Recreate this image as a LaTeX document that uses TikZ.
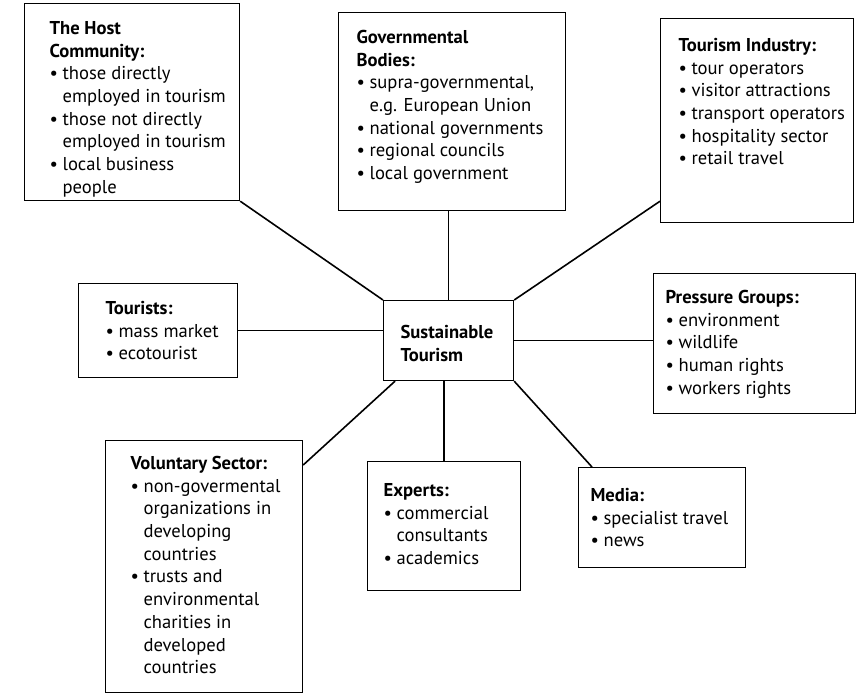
\documentclass[tikz,border=0pt]{standalone}
\usepackage{fontspec}
\setmainfont{PT Sans}
\usetikzlibrary{calc}
\newcommand\boxfont{\fontsize{18.6}{22.7}\selectfont}
\newcommand\bi[1]{\par\hangindent=13pt\hangafter=1\noindent\makebox[13pt][l]{•}\strut#1}
\newcommand\ttl[1]{\noindent\textbf{\strut#1}}
\newcommand\mybox[8]{\node[boxstyle, anchor=north west] (#1) at (#2,#3)
  {\parbox[t][#5pt][t]{#4pt}{\vspace*{#7pt}\leftskip=#6pt\rightskip=0pt plus 1fil\parindent=0pt\boxfont #8}};}
\tikzset{
  boxstyle/.style={draw=black, line width=1.2pt, inner sep=0pt},
  link/.style={draw=black, line width=1.6pt}
}
\begin{document}
\begin{tikzpicture}[x=1pt, y=-1pt]
\fill[white] (0,0) rectangle (856,695);
\useasboundingbox (0,0) rectangle (856,695);
\mybox{host}{24}{3}{215}{197}{25}{15}{\ttl{The Host\newline Community:}
  \bi{those directly\newline employed in tourism}
  \bi{those not directly\newline employed in tourism}
  \bi{local business\newline people}}
\mybox{gov}{338}{12}{227}{198}{18}{15}{\ttl{Governmental\newline Bodies:}
  \bi{supra-governmental,\newline e.g. European Union}
  \bi{national governments}
  \bi{regional councils}
  \bi{local government}}
\mybox{ti}{660}{18}{193}{204}{18}{17}{\ttl{Tourism Industry:}
  \bi{tour operators}
  \bi{visitor attractions}
  \bi{transport operators}
  \bi{hospitality sector}
  \bi{retail travel}}
\mybox{tour}{78}{283}{159}{94}{27}{15}{\ttl{Tourists:}
  \bi{mass market}
  \bi{ecotourist}}
\mybox{st}{383}{300}{130}{80}{17}{22}{\ttl{Sustainable\newline Tourism}}
\mybox{pg}{653}{273}{202}{140}{12}{14}{\ttl{Pressure Groups:}
  \bi{environment}
  \bi{wildlife}
  \bi{human rights}
  \bi{workers rights}}
\mybox{vol}{105}{440}{197}{252}{25}{13}{\ttl{Voluntary Sector:}
  \bi{non-govermental\newline organizations in\newline developing\newline countries}
  \bi{trusts and\newline environmental\newline charities in\newline developed\newline countries}}
\mybox{exp}{367}{461}{153}{129}{16}{19}{\ttl{Experts:}
  \bi{commercial\newline consultants}
  \bi{academics}}
\mybox{media}{578}{467}{167}{100}{12}{18}{\ttl{Media:}
  \bi{specialist travel}
  \bi{news}}
\draw[link] (host.south east) -- (st.north west);
\draw[link] (st.north |- gov.south) -- (st.north);
\draw[link] ($(ti.south west)+(0,-22)$) -- (st.north east);
\draw[link] (tour.east) -- (tour.east -| st.west);
\draw[link] (st.east) -- (st.east -| pg.west);
\draw[link] ($(vol.north east)+(0,25)$) -- ($(st.south west)+(12,0)$);
\draw[link] (exp.north) -- (exp.north |- st.south);
\draw[link] (st.south east) -- ($(media.north west)+(14,0)$);
\end{tikzpicture}
\end{document}
